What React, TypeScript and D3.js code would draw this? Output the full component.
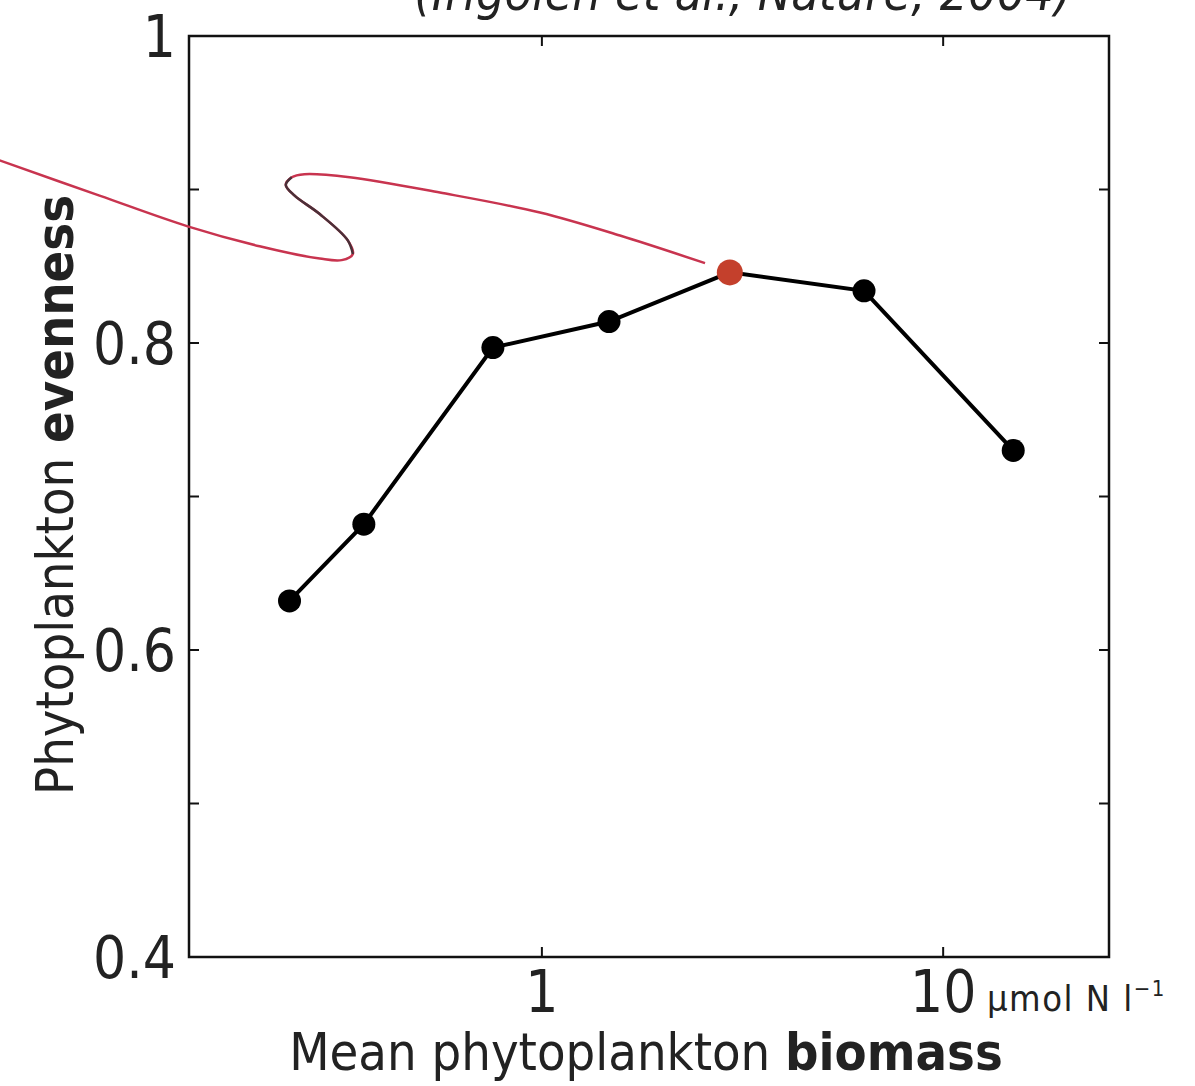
import React from "react";
import * as d3 from "d3";

const biomass = [0.235, 0.36, 0.755, 1.47, 2.94, 6.35, 14.95];
const evenness = [0.632, 0.682, 0.797, 0.814, 0.846, 0.834, 0.73];
const highlightIndex = 4;

const xDomain = [0.132, 25.9];
const yDomain = [0.4, 1.0];
const xTicks = [1, 10];
const xTickLabels = ["1", "10"];
const yTicks = [0.4, 0.5, 0.6, 0.7, 0.8, 0.9, 1.0];
const yLabelTicks = [0.4, 0.6, 0.8, 1.0];
const yTickLabels = ["0.4", "0.6", "0.8", "1"];

// annotation pointer curve (data coordinates)
const pointerX = [0.0445, 0.079, 0.131, 0.198, 0.2795, 0.317, 0.338, 0.328, 0.2795, 0.242, 0.23, 0.238, 0.256, 0.332, 0.557, 0.989, 1.565, 2.55];
const pointerY = [0.919, 0.896, 0.876, 0.863, 0.855, 0.854, 0.858, 0.867, 0.884, 0.896, 0.903, 0.908, 0.91, 0.908, 0.898, 0.885, 0.87, 0.852];
const darkStart = 6;
const darkEnd = 11;

const FONT = "'Liberation Sans Narrow', 'DejaVu Sans Condensed', sans-serif";

export default function App() {
  const W = 1195, H = 1086;
  const left = 189, right = 1109, top = 36, bottom = 957;
  const x = d3.scaleLog().domain(xDomain).range([left, right]);
  const y = d3.scaleLinear().domain(yDomain).range([bottom, top]);

  const pts = biomass.map((b, i) => [b, evenness[i]] as [number, number]);
  const line = d3.line<[number, number]>().x(d => x(d[0])).y(d => y(d[1]));

  const ptr = pointerX.map((v, i) => [v, pointerY[i]] as [number, number]);
  const ptrLine = d3.line<[number, number]>().x(d => x(d[0])).y(d => y(d[1])).curve(d3.curveCatmullRom.alpha(0.5));
  const darkPts = ptr.slice(darkStart, darkEnd + 1);

  const tickLen = 10;

  return (
    <svg width={W} height={H} style={{ position: "absolute", left: 0, top: 0, background: "#fff" }} fontFamily={FONT}>
      <rect x={0} y={0} width={W} height={H} fill="#fff" />
      {/* citation, cut at top as in the source */}
      <text x={743} y={10} textAnchor="middle" fontSize={50} fontStyle="italic" fill="#222">
        (Irigoien et al., Nature, 2004)
      </text>

      {/* frame */}
      <rect x={left} y={top} width={right - left} height={bottom - top} fill="none" stroke="#111" strokeWidth={2.5} />

      {/* y ticks both sides */}
      {yTicks.map((t, i) => (
        <g key={"yt" + i}>
          <line x1={left} x2={left + tickLen} y1={y(t)} y2={y(t)} stroke="#111" strokeWidth={2} />
          <line x1={right} x2={right - tickLen} y1={y(t)} y2={y(t)} stroke="#111" strokeWidth={2} />
        </g>
      ))}
      {/* x ticks top & bottom */}
      {xTicks.map((t, i) => (
        <g key={"xt" + i}>
          <line x1={x(t)} x2={x(t)} y1={bottom} y2={bottom - tickLen} stroke="#111" strokeWidth={2} />
          <line x1={x(t)} x2={x(t)} y1={top} y2={top + tickLen} stroke="#111" strokeWidth={2} />
        </g>
      ))}

      {/* y tick labels */}
      {yLabelTicks.map((t, i) => (
        <text key={"yl" + i} x={176} y={y(t) + 21} textAnchor="end" fontSize={58} fill="#222">
          {yTickLabels[i]}
        </text>
      ))}
      {/* x tick labels */}
      {xTicks.map((t, i) => (
        <text key={"xl" + i} x={x(t)} y={1012} textAnchor="middle" fontSize={58} fill="#222">
          {xTickLabels[i]}
        </text>
      ))}
      <text x={987} y={1011} fontSize={36} letterSpacing={1.5} fill="#222">
        μmol N l<tspan fontSize={22} dy={-15}>−1</tspan>
      </text>

      {/* axis titles */}
      <text x={646} y={1070} textAnchor="middle" fontSize={52} fill="#222">
        Mean phytoplankton <tspan fontWeight="bold">biomass</tspan>
      </text>
      <text transform={`translate(73, 495) rotate(-90)`} textAnchor="middle" fontSize={52} fill="#222">
        Phytoplankton <tspan fontWeight="bold">evenness</tspan>
      </text>

      {/* pointer curve */}
      <path d={ptrLine(ptr) || ""} fill="none" stroke="#c8344f" strokeWidth={2.5} />
      <path d={ptrLine(darkPts) || ""} fill="none" stroke="#4a3038" strokeWidth={2.5} />

      {/* data line */}
      <path d={line(pts) || ""} fill="none" stroke="#000" strokeWidth={4} />
      {pts.map((p, i) => (
        <circle key={"c" + i} cx={x(p[0])} cy={y(p[1])} r={i === highlightIndex ? 13 : 11.5}
          fill={i === highlightIndex ? "#c4402c" : "#000"} />
      ))}
    </svg>
  );
}
